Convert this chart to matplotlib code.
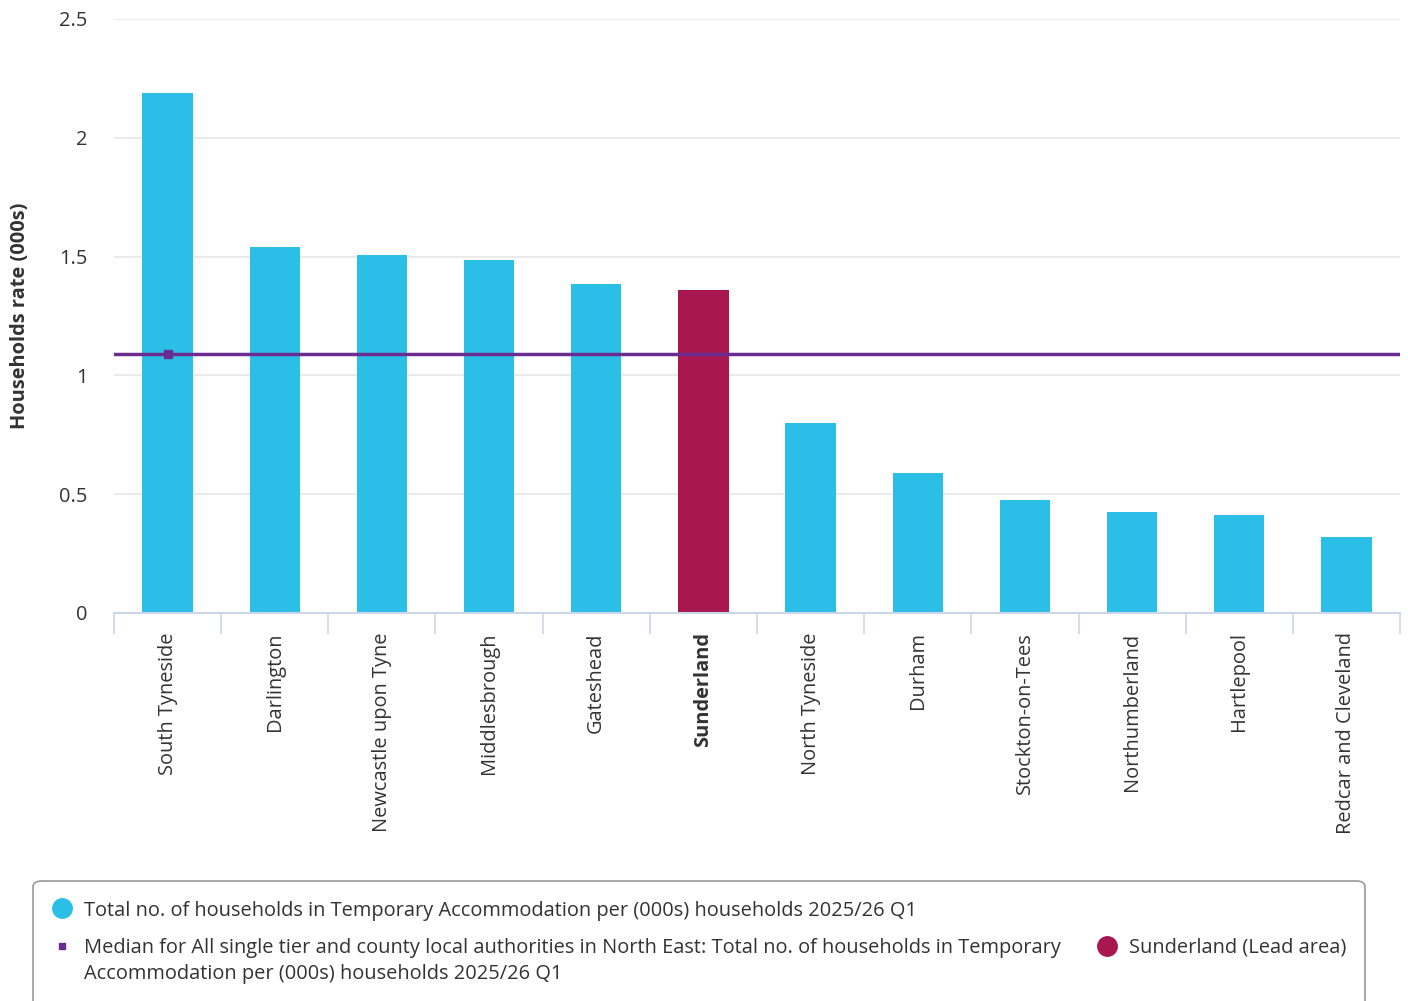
import matplotlib.pyplot as plt
import numpy as np
from matplotlib.lines import Line2D
from matplotlib.patches import FancyBboxPatch

plt.rcParams['font.family'] = ['Open Sans', 'DejaVu Sans']

areas = ['South Tyneside', 'Darlington', 'Newcastle upon Tyne', 'Middlesbrough',
         'Gateshead', 'Sunderland', 'North Tyneside', 'Durham', 'Stockton-on-Tees',
         'Northumberland', 'Hartlepool', 'Redcar and Cleveland']
rates = [2.19, 1.54, 1.505, 1.485, 1.385, 1.36, 0.80, 0.59, 0.476, 0.426, 0.413, 0.32]
median = 1.088
lead_area = 'Sunderland'

yticks = [0, 0.5, 1, 1.5, 2, 2.5]
ytick_labels = ['0', '0.5', '1', '1.5', '2', '2.5']

blue = '#2bbfe8'
red = '#a8174f'
purple = '#6b2c91'
text_col = '#333333'
fs = 14.4

W, H = 1408, 1001
fig = plt.figure(figsize=(W / 100, H / 100), dpi=100)
ax = fig.add_axes([114 / W, 1 - 613 / H, (1400 - 114) / W, (613 - 19) / H])

x = np.arange(len(areas))
colors = [red if a == lead_area else blue for a in areas]
ax.bar(x, rates, width=0.47, color=colors, zorder=2)
ax.axhline(median, color=purple, lw=2.5, zorder=3)
ax.plot([0], [median], marker='s', ms=6, color=purple, zorder=4)

ax.set_xlim(-0.5, len(areas) - 0.5)
ax.set_ylim(0, 2.5)
ax.set_yticks(yticks)
ax.set_yticklabels(ytick_labels, fontsize=fs, color=text_col)
ax.tick_params(axis='y', length=0, pad=19)
ax.grid(axis='y', color='#e6e6e6', lw=1.2, zorder=0)
ax.set_axisbelow(True)

# category ticks on boundaries, labels at centres
ax.set_xticks(np.arange(len(areas) + 1) - 0.5)
ax.set_xticklabels([])
ax.set_xticks(x, minor=True)
ax.set_xticklabels(areas, minor=True, rotation=90, fontsize=fs, color=text_col)
ax.tick_params(axis='x', which='major', length=15, color='#ccd6eb', width=1.2)
ax.tick_params(axis='x', which='minor', length=0, pad=14)
for lbl in ax.get_xticklabels(minor=True):
    if lbl.get_text() == lead_area:
        lbl.set_fontweight('bold')

for s in ['top', 'right', 'left']:
    ax.spines[s].set_visible(False)
ax.spines['bottom'].set_color('#ccd6eb')
ax.spines['bottom'].set_linewidth(1.5)

fig.text(20 / W, 1 - 316 / H, 'Households rate (000s)', rotation=90, fontsize=fs,
         fontweight='bold', color=text_col, ha='center', va='center')

# legend box
box = FancyBboxPatch((33 / W, 1 - 1010 / H), (1365 - 33) / W, (1010 - 881) / H,
                     boxstyle='round,pad=0,rounding_size=0.006',
                     transform=fig.transFigure, fc='white', ec='#999999', lw=1.2)
fig.add_artist(box)
fig.add_artist(Line2D([62 / W], [1 - 908 / H], marker='o', ms=14, color=blue,
                      transform=fig.transFigure))
fig.text(84 / W, 1 - 911 / H,
         'Total no. of households in Temporary Accommodation per (000s) households 2025/26 Q1',
         fontsize=fs, color=text_col, va='center')
fig.add_artist(Line2D([62 / W], [1 - 946 / H], marker='s', ms=5, color=purple,
                      transform=fig.transFigure))
fig.text(84 / W, 1 - 948 / H,
         'Median for All single tier and county local authorities in North East: Total no. of households in Temporary',
         fontsize=fs, color=text_col, va='center')
fig.text(84 / W, 1 - 974 / H, 'Accommodation per (000s) households 2025/26 Q1',
         fontsize=fs, color=text_col, va='center')
fig.add_artist(Line2D([1107 / W], [1 - 946 / H], marker='o', ms=14, color=red,
                      transform=fig.transFigure))
fig.text(1129 / W, 1 - 948 / H, 'Sunderland (Lead area)', fontsize=fs,
         color=text_col, va='center')

fig.savefig('out.png', dpi=100)
